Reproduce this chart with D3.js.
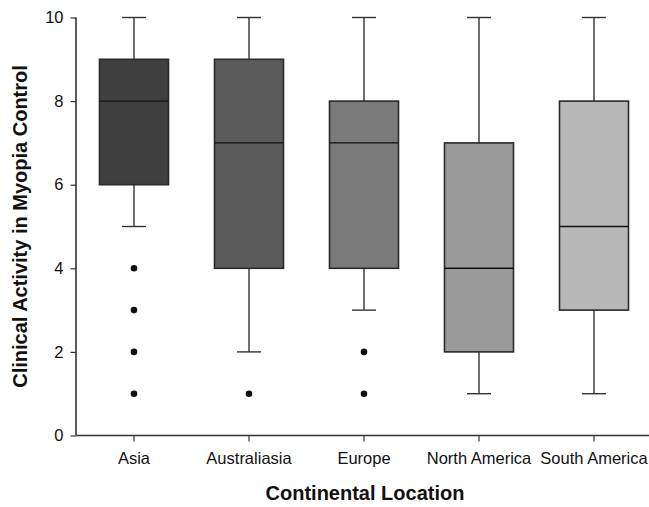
<!DOCTYPE html>
<html>
<head>
<meta charset="utf-8">
<script src="https://cdn.jsdelivr.net/npm/d3@7"></script>
<style>
  body { margin: 0; background: #fff; }
  text { font-family: "Liberation Sans", Arial, sans-serif; fill: #111; }
</style>
</head>
<body>
<script>
const width = 649;
const height = 507;

// data
const regions = ["Asia", "Australiasia", "Europe", "North America", "South America"];
const whiskerLow = [5, 2, 3, 1, 1];
const q1 = [6, 4, 4, 2, 3];
const medians = [8, 7, 7, 4, 5];
const q3 = [9, 9, 8, 7, 8];
const whiskerHigh = [10, 10, 10, 10, 10];
const outliers = [[4, 3, 2, 1], [1], [2, 1], [], []];
const yTicks = [0, 2, 4, 6, 8, 10];
const fills = ["#404040", "#5b5b5b", "#7a7a7a", "#9a9a9a", "#b8b8b8"];

const boxes = regions.map((r, i) => ({
    region: r,
    lo: whiskerLow[i],
    q1: q1[i],
    med: medians[i],
    q3: q3[i],
    hi: whiskerHigh[i],
    out: outliers[i],
    fill: fills[i]
}));

const svg = d3.select("body")
    .append("svg")
    .attr("width", width)
    .attr("height", height);

const x = d3.scaleBand()
    .domain(regions)
    .range([76.5, 651.5])
    .paddingInner(0.4)
    .paddingOuter(0.2);

const y = d3.scaleLinear()
    .domain([0, 10])
    .range([435.5, 17.5]);

const boxW = x.bandwidth();
const capW = 24;

// axes
const yAxis = svg.append("g")
    .attr("transform", "translate(76.5,0)")
    .call(d3.axisLeft(y).tickValues(yTicks).tickSize(6).tickPadding(7));

const xAxis = svg.append("g")
    .attr("transform", "translate(0,435.5)")
    .call(d3.axisBottom(x).tickSize(6).tickPadding(10.5));

[yAxis, xAxis].forEach(a => {
    a.attr("font-size", null).attr("font-family", null);
    a.select(".domain").attr("stroke", "#333").attr("stroke-width", 1.6);
    a.selectAll(".tick line").attr("stroke", "#333").attr("stroke-width", 1.2);
    a.selectAll(".tick text")
        .style("font-size", "16.5px")
        .attr("fill", "#111");
});
yAxis.select(".domain").attr("d", "M-0.5,17.5V435.5");
xAxis.select(".domain").attr("d", "M76.5,0H651.5");

const g = svg.selectAll(".box")
    .data(boxes)
    .enter()
    .append("g")
    .attr("class", "box")
    .attr("transform", d => "translate(" + (x(d.region) + boxW / 2) + ",0)");

// whiskers
g.append("line")
    .attr("x1", 0).attr("x2", 0)
    .attr("y1", d => y(d.q3)).attr("y2", d => y(d.hi))
    .attr("stroke", "#333").attr("stroke-width", 1.4);
g.append("line")
    .attr("x1", 0).attr("x2", 0)
    .attr("y1", d => y(d.q1)).attr("y2", d => y(d.lo))
    .attr("stroke", "#333").attr("stroke-width", 1.4);
g.append("line")
    .attr("x1", -capW / 2).attr("x2", capW / 2)
    .attr("y1", d => y(d.hi)).attr("y2", d => y(d.hi))
    .attr("stroke", "#333").attr("stroke-width", 1.4);
g.append("line")
    .attr("x1", -capW / 2).attr("x2", capW / 2)
    .attr("y1", d => y(d.lo)).attr("y2", d => y(d.lo))
    .attr("stroke", "#333").attr("stroke-width", 1.4);

// boxes
g.append("rect")
    .attr("x", -boxW / 2)
    .attr("width", boxW)
    .attr("y", d => y(d.q3))
    .attr("height", d => y(d.q1) - y(d.q3))
    .attr("fill", d => d.fill)
    .attr("stroke", "#2a2a2a")
    .attr("stroke-width", 1.6);

g.append("line")
    .attr("x1", -boxW / 2).attr("x2", boxW / 2)
    .attr("y1", d => y(d.med)).attr("y2", d => y(d.med))
    .attr("stroke", "#111").attr("stroke-width", 1.4);

// outliers
g.selectAll("circle")
    .data(d => d.out)
    .enter()
    .append("circle")
    .attr("cx", 0)
    .attr("cy", v => y(v))
    .attr("r", 3.3)
    .attr("fill", "#111");

// titles
svg.append("text")
    .attr("x", 365)
    .attr("y", 500)
    .attr("text-anchor", "middle")
    .style("font-size", "20px")
    .attr("font-weight", "bold")
    .text("Continental Location");

svg.append("text")
    .attr("transform", "translate(27,226.5) rotate(-90)")
    .attr("text-anchor", "middle")
    .style("font-size", "20px")
    .attr("font-weight", "bold")
    .text("Clinical Activity in Myopia Control");
</script>
</body>
</html>
